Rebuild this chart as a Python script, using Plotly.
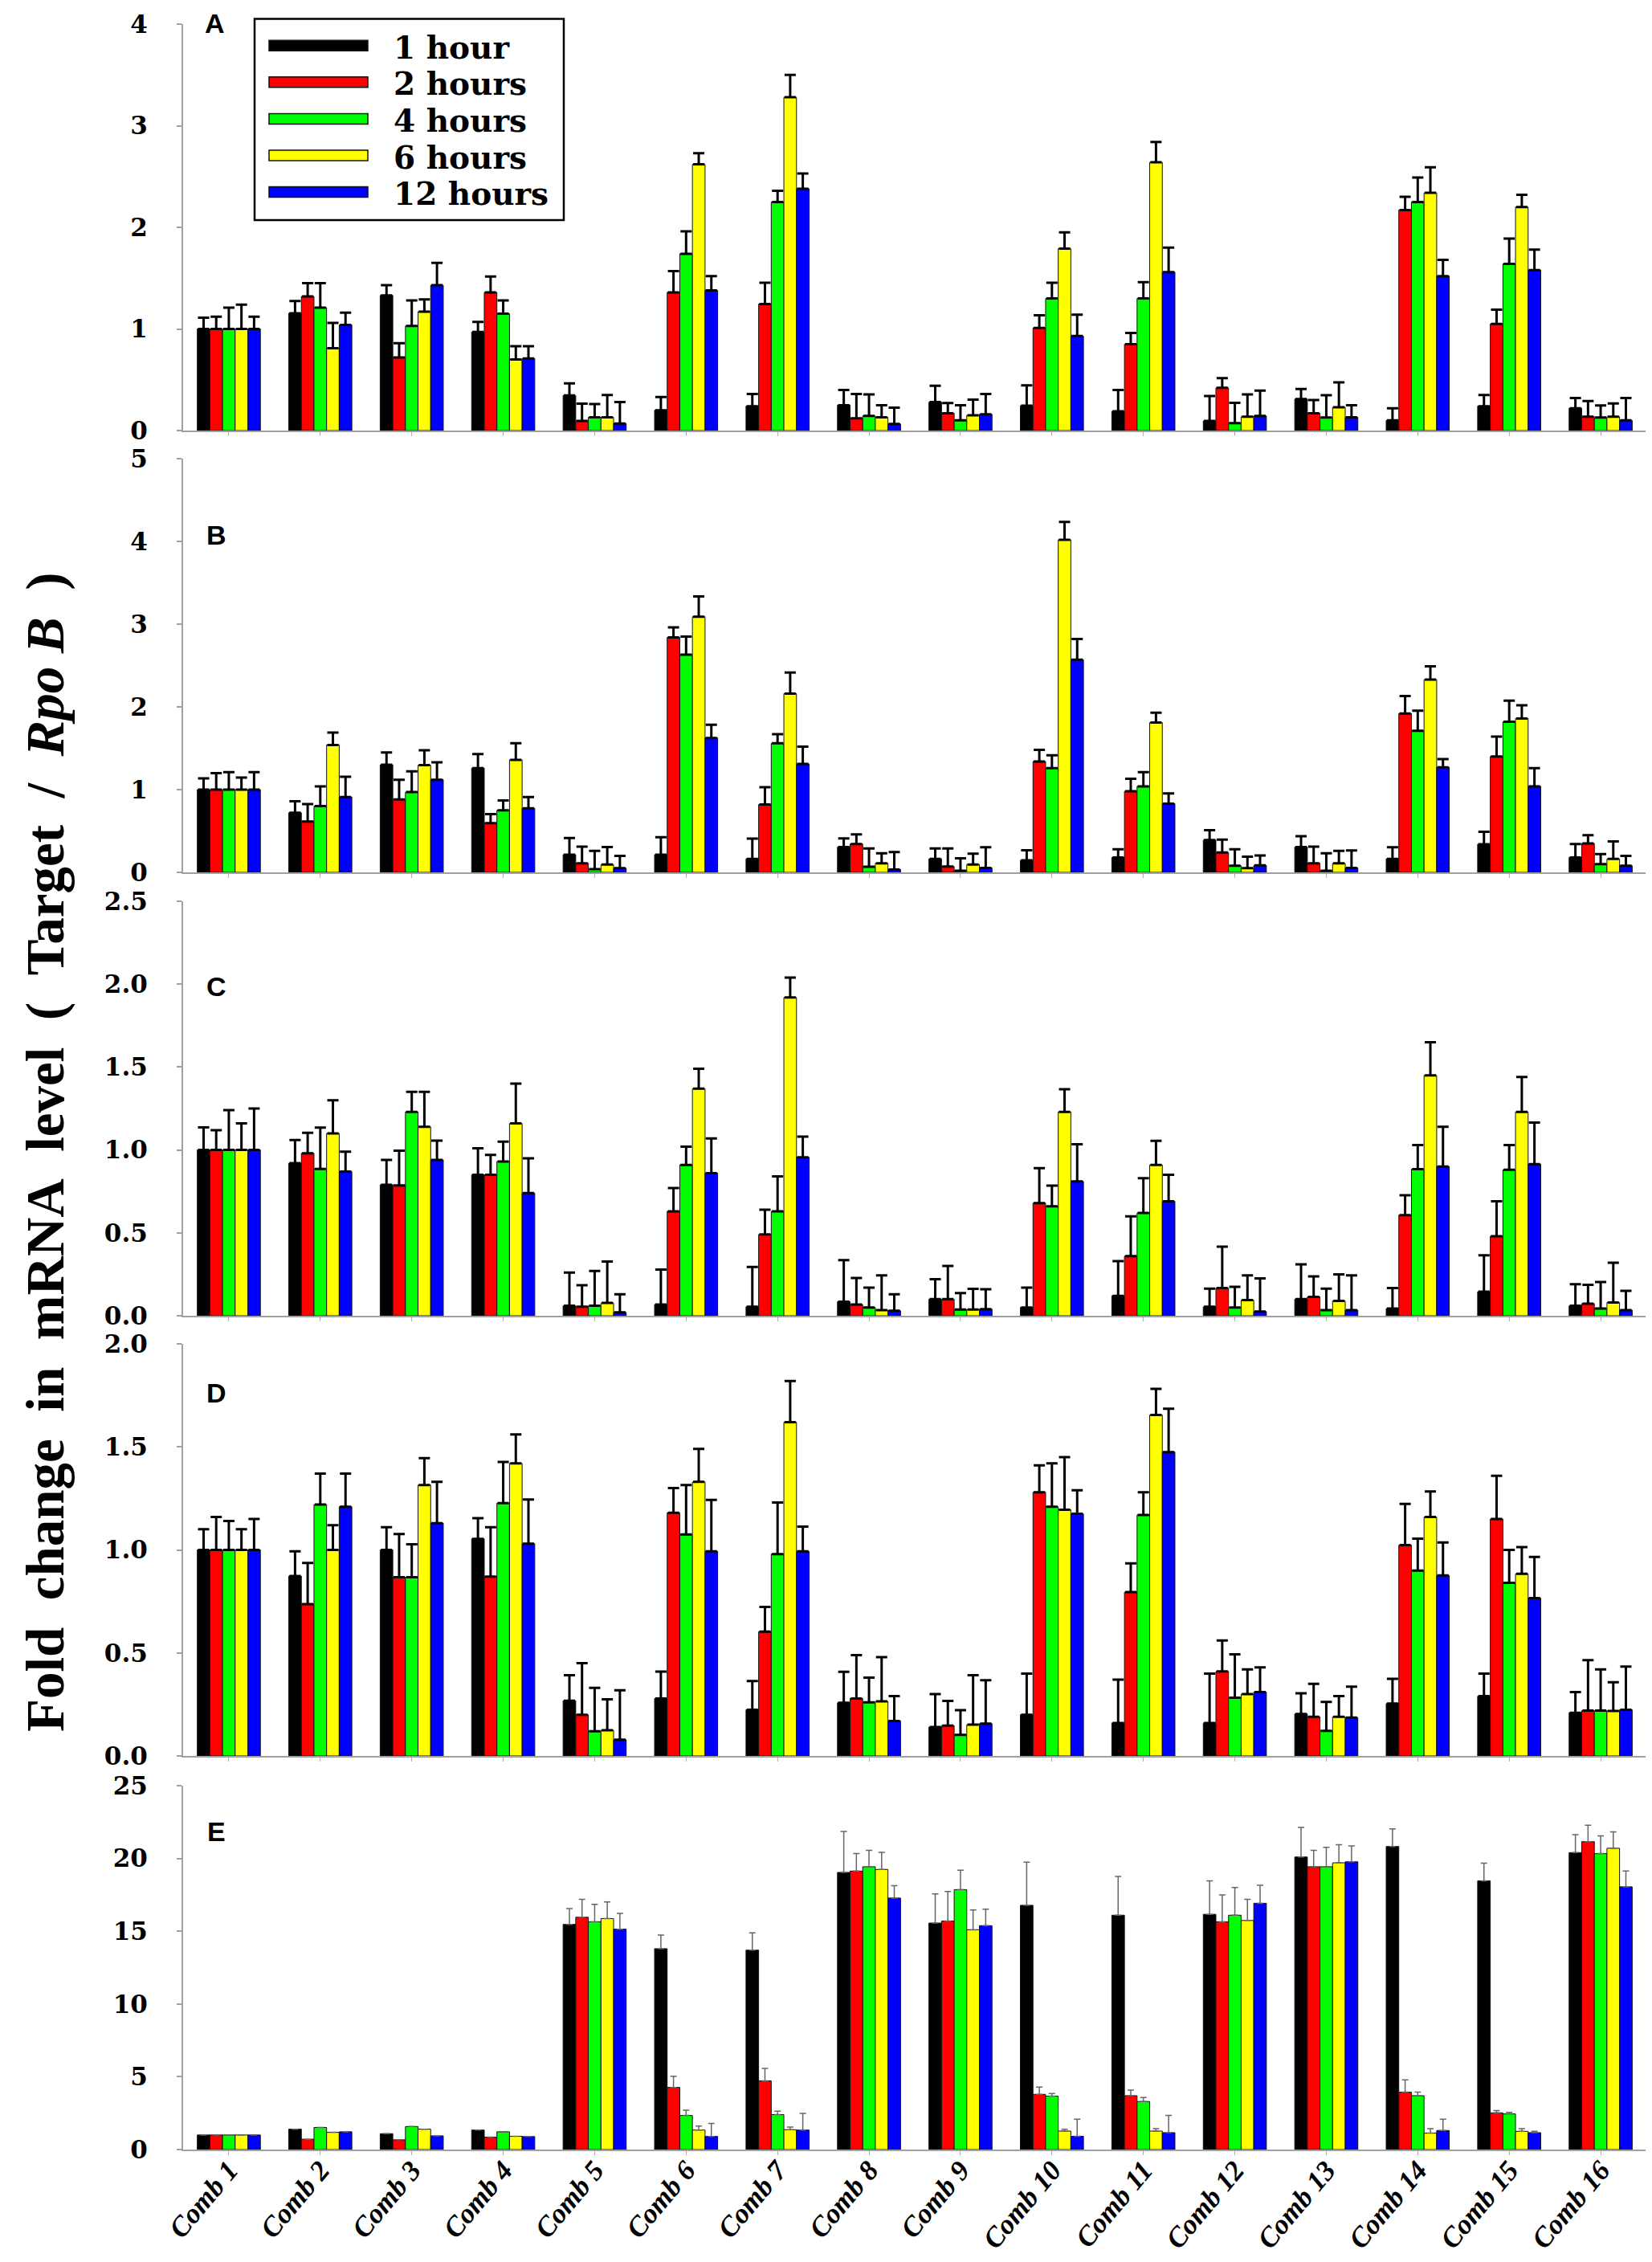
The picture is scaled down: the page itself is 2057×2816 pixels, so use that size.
import plotly.graph_objects as go

W, H = 2057, 2816

CATEGORIES = ["Comb 1", "Comb 2", "Comb 3", "Comb 4", "Comb 5", "Comb 6", "Comb 7", "Comb 8",
              "Comb 9", "Comb 10", "Comb 11", "Comb 12", "Comb 13", "Comb 14", "Comb 15", "Comb 16"]
SERIES = ["1 hour", "2 hours", "4 hours", "6 hours", "12 hours"]
COLORS = ["#000000", "#ff0000", "#00ff00", "#ffff00", "#0000ff"]
PANEL_LABELS = ["A", "B", "C", "D", "E"]
Y_MAX = [4, 5, 2.5, 2, 25]
Y_DTICK = [1, 1, 0.5, 0.5, 5]
Y_FORMAT = ["d", "d", ".1f", ".1f", "d"]

# ---------------- Panel A ----------------
A_1H = [1.0, 1.155, 1.33, 0.97, 0.345, 0.2, 0.24, 0.25, 0.28, 0.245, 0.19, 0.095, 0.31, 0.10, 0.24, 0.22]
A_1H_ERR = [0.11, 0.12, 0.10, 0.10, 0.12, 0.13, 0.12, 0.15, 0.16, 0.2, 0.21, 0.245, 0.10, 0.12, 0.11, 0.10]
A_2H = [1.0, 1.32, 0.72, 1.36, 0.095, 1.36, 1.245, 0.12, 0.17, 1.01, 0.85, 0.42, 0.17, 2.17, 1.05, 0.136]
A_2H_ERR = [0.12, 0.13, 0.14, 0.155, 0.17, 0.21, 0.21, 0.24, 0.10, 0.125, 0.11, 0.095, 0.13, 0.13, 0.14, 0.155]
A_4H = [1.0, 1.21, 1.03, 1.15, 0.13, 1.74, 2.25, 0.145, 0.10, 1.30, 1.30, 0.073, 0.128, 2.25, 1.64, 0.128]
A_4H_ERR = [0.21, 0.24, 0.25, 0.13, 0.13, 0.22, 0.11, 0.21, 0.15, 0.155, 0.16, 0.2, 0.22, 0.24, 0.25, 0.12]
A_6H = [1.0, 0.81, 1.17, 0.70, 0.13, 2.62, 3.28, 0.13, 0.15, 1.79, 2.64, 0.136, 0.23, 2.34, 2.20, 0.136]
A_6H_ERR = [0.24, 0.25, 0.12, 0.13, 0.22, 0.11, 0.22, 0.12, 0.155, 0.16, 0.2, 0.22, 0.245, 0.25, 0.12, 0.13]
A_12H = [1.0, 1.04, 1.43, 0.71, 0.07, 1.38, 2.38, 0.065, 0.16, 0.93, 1.56, 0.144, 0.13, 1.52, 1.58, 0.10]
A_12H_ERR = [0.12, 0.12, 0.22, 0.12, 0.21, 0.14, 0.15, 0.16, 0.2, 0.21, 0.24, 0.25, 0.12, 0.16, 0.2, 0.22]

# ---------------- Panel B ----------------
B_1H = [1.0, 0.72, 1.30, 1.26, 0.214, 0.214, 0.163, 0.306, 0.163, 0.146, 0.18, 0.39, 0.306, 0.163, 0.34, 0.18]
B_1H_ERR = [0.135, 0.14, 0.15, 0.17, 0.2, 0.21, 0.245, 0.105, 0.125, 0.12, 0.1, 0.12, 0.13, 0.14, 0.15, 0.163]
B_2H = [1.0, 0.615, 0.88, 0.595, 0.11, 2.84, 0.82, 0.343, 0.07, 1.34, 0.98, 0.24, 0.11, 1.92, 1.40, 0.35]
B_2H_ERR = [0.2, 0.21, 0.24, 0.11, 0.2, 0.12, 0.21, 0.115, 0.22, 0.14, 0.15, 0.155, 0.2, 0.21, 0.24, 0.10]
B_4H = [1.0, 0.80, 0.97, 0.75, 0.04, 2.63, 1.56, 0.068, 0.02, 1.26, 1.04, 0.08, 0.02, 1.71, 1.82, 0.10]
B_4H_ERR = [0.21, 0.24, 0.25, 0.12, 0.22, 0.22, 0.11, 0.22, 0.15, 0.155, 0.17, 0.2, 0.21, 0.245, 0.255, 0.12]
B_6H = [1.0, 1.54, 1.295, 1.36, 0.095, 3.09, 2.16, 0.11, 0.095, 4.02, 1.81, 0.05, 0.11, 2.33, 1.86, 0.163]
B_6H_ERR = [0.146, 0.15, 0.18, 0.2, 0.21, 0.245, 0.255, 0.12, 0.13, 0.215, 0.12, 0.14, 0.15, 0.16, 0.16, 0.21]
B_12H = [1.0, 0.91, 1.12, 0.775, 0.05, 1.625, 1.31, 0.034, 0.054, 2.57, 0.83, 0.085, 0.054, 1.27, 1.04, 0.08]
B_12H_ERR = [0.21, 0.245, 0.21, 0.135, 0.15, 0.16, 0.21, 0.21, 0.25, 0.25, 0.125, 0.12, 0.21, 0.10, 0.22, 0.12]

# ---------------- Panel C ----------------
C_1H = [1.0, 0.92, 0.79, 0.85, 0.06, 0.068, 0.054, 0.085, 0.10, 0.05, 0.12, 0.054, 0.10, 0.043, 0.145, 0.06]
C_1H_ERR = [0.136, 0.14, 0.15, 0.16, 0.2, 0.21, 0.24, 0.25, 0.12, 0.12, 0.21, 0.11, 0.21, 0.124, 0.22, 0.13]
C_2H = [1.0, 0.98, 0.786, 0.85, 0.054, 0.63, 0.49, 0.068, 0.10, 0.68, 0.36, 0.167, 0.114, 0.607, 0.48, 0.073]
C_2H_ERR = [0.119, 0.124, 0.21, 0.12, 0.13, 0.14, 0.15, 0.16, 0.2, 0.21, 0.24, 0.25, 0.124, 0.12, 0.21, 0.114]
C_4H = [1.0, 0.885, 1.23, 0.93, 0.06, 0.91, 0.63, 0.05, 0.037, 0.66, 0.62, 0.05, 0.034, 0.884, 0.88, 0.043]
C_4H_ERR = [0.24, 0.25, 0.12, 0.12, 0.21, 0.11, 0.21, 0.12, 0.1, 0.125, 0.21, 0.125, 0.13, 0.145, 0.15, 0.16]
C_6H = [1.0, 1.10, 1.14, 1.16, 0.077, 1.37, 1.92, 0.034, 0.037, 1.23, 0.91, 0.094, 0.09, 1.45, 1.23, 0.08]
C_6H_ERR = [0.16, 0.2, 0.21, 0.24, 0.25, 0.12, 0.12, 0.21, 0.125, 0.136, 0.145, 0.15, 0.16, 0.2, 0.21, 0.24]
C_12H = [1.0, 0.87, 0.94, 0.74, 0.02, 0.86, 0.956, 0.03, 0.04, 0.81, 0.69, 0.025, 0.034, 0.90, 0.915, 0.034]
C_12H_ERR = [0.25, 0.12, 0.116, 0.21, 0.11, 0.21, 0.124, 0.1, 0.12, 0.225, 0.16, 0.2, 0.21, 0.24, 0.25, 0.116]

# ---------------- Panel D ----------------
D_1H = [1.0, 0.873, 1.0, 1.054, 0.268, 0.279, 0.224, 0.258, 0.14, 0.2, 0.16, 0.16, 0.204, 0.254, 0.29, 0.21]
D_1H_ERR = [0.10, 0.12, 0.11, 0.1, 0.124, 0.13, 0.14, 0.15, 0.16, 0.2, 0.21, 0.24, 0.1, 0.12, 0.11, 0.1]
D_2H = [1.0, 0.737, 0.867, 0.87, 0.2, 1.18, 0.603, 0.279, 0.147, 1.28, 0.795, 0.41, 0.19, 1.023, 1.15, 0.22]
D_2H_ERR = [0.16, 0.2, 0.21, 0.24, 0.25, 0.12, 0.12, 0.21, 0.12, 0.13, 0.14, 0.15, 0.16, 0.2, 0.21, 0.245]
D_4H = [1.0, 1.22, 0.867, 1.227, 0.12, 1.075, 0.98, 0.26, 0.102, 1.21, 1.17, 0.283, 0.122, 0.9, 0.84, 0.22]
D_4H_ERR = [0.14, 0.15, 0.16, 0.2, 0.21, 0.24, 0.25, 0.12, 0.12, 0.21, 0.11, 0.21, 0.14, 0.155, 0.16, 0.2]
D_6H = [1.0, 1.0, 1.315, 1.42, 0.125, 1.33, 1.62, 0.265, 0.152, 1.195, 1.655, 0.3, 0.19, 1.16, 0.884, 0.218]
D_6H_ERR = [0.10, 0.12, 0.13, 0.14, 0.15, 0.16, 0.2, 0.215, 0.24, 0.255, 0.127, 0.12, 0.1, 0.124, 0.13, 0.14]
D_12H = [1.0, 1.21, 1.13, 1.03, 0.079, 0.993, 0.993, 0.17, 0.157, 1.175, 1.475, 0.31, 0.186, 0.876, 0.766, 0.224]
D_12H_ERR = [0.15, 0.16, 0.2, 0.215, 0.24, 0.25, 0.12, 0.12, 0.21, 0.114, 0.21, 0.12, 0.15, 0.16, 0.2, 0.21]

# ---------------- Panel E ----------------
E_1H = [1.0, 1.4, 1.09, 1.34, 15.47, 13.8, 13.7, 19.04, 15.56, 16.78, 16.1, 16.16, 20.1, 20.82, 18.46, 20.4]
E_1H_ERR = [0, 0, 0, 0, 1.09, 0.94, 1.18, 2.81, 2.0, 2.96, 2.67, 2.3, 2.03, 1.22, 1.22, 1.23]
E_2H = [1.0, 0.71, 0.67, 0.85, 15.96, 4.27, 4.72, 19.13, 15.7, 3.79, 3.7, 15.65, 19.43, 3.94, 2.52, 21.15]
E_2H_ERR = [0, 0, 0, 0, 1.23, 0.76, 0.85, 1.2, 2.03, 0.5, 0.38, 1.85, 1.13, 0.85, 0.15, 1.13]
E_4H = [1.0, 1.52, 1.58, 1.22, 15.65, 2.34, 2.4, 19.43, 17.86, 3.67, 3.3, 16.1, 19.43, 3.7, 2.45, 20.33]
E_4H_ERR = [0, 0, 0, 0, 1.2, 0.36, 0.24, 1.13, 1.33, 0.18, 0.27, 1.9, 1.34, 0.24, 0.1, 1.22]
E_6H = [1.0, 1.18, 1.4, 0.91, 15.87, 1.34, 1.36, 19.24, 15.1, 1.27, 1.27, 15.74, 19.7, 1.13, 1.25, 20.7]
E_6H_ERR = [0, 0, 0, 0, 1.14, 0.27, 0.18, 1.18, 1.36, 0.13, 0.16, 1.45, 1.25, 0.3, 0.18, 1.13]
E_12H = [1.0, 1.22, 0.94, 0.89, 15.14, 0.9, 1.34, 17.28, 15.38, 0.91, 1.16, 16.92, 19.77, 1.31, 1.16, 18.05]
E_12H_ERR = [0, 0, 0, 0, 1.09, 0.9, 1.14, 0.85, 1.14, 1.18, 1.18, 1.23, 1.09, 0.78, 0.1, 1.09]

PANEL_DATA = [
    [(A_1H, A_1H_ERR), (A_2H, A_2H_ERR), (A_4H, A_4H_ERR), (A_6H, A_6H_ERR), (A_12H, A_12H_ERR)],
    [(B_1H, B_1H_ERR), (B_2H, B_2H_ERR), (B_4H, B_4H_ERR), (B_6H, B_6H_ERR), (B_12H, B_12H_ERR)],
    [(C_1H, C_1H_ERR), (C_2H, C_2H_ERR), (C_4H, C_4H_ERR), (C_6H, C_6H_ERR), (C_12H, C_12H_ERR)],
    [(D_1H, D_1H_ERR), (D_2H, D_2H_ERR), (D_4H, D_4H_ERR), (D_6H, D_6H_ERR), (D_12H, D_12H_ERR)],
    [(E_1H, E_1H_ERR), (E_2H, E_2H_ERR), (E_4H, E_4H_ERR), (E_6H, E_6H_ERR), (E_12H, E_12H_ERR)],
]

# ---------------- layout (pixel positions of the panels) ----------------
PANEL_PX = [(22, 528), (563, 1078), (1114, 1630), (1665, 2178), (2215, 2668)]
LETTER_PX = [(259, 21), (261, 658), (261, 1220), (261, 1726), (261, 2272)]
X_PX = (220, 2042)


def px_x(x):
    return x / W


def px_y(y):
    return 1 - y / H


fig = go.Figure()
for p, panel in enumerate(PANEL_DATA):
    ax = "" if p == 0 else str(p + 1)
    last = p == len(PANEL_DATA) - 1
    for s, (vals, errs) in enumerate(panel):
        fig.add_trace(go.Bar(
            x=CATEGORIES, y=vals, name=SERIES[s], offsetgroup=str(s),
            marker=dict(color=COLORS[s], line=dict(color="#111111", width=1)),
            error_y=dict(type="data", array=errs, arrayminus=[0] * len(errs), symmetric=False,
                         color="#666666" if last else "#000000",
                         thickness=1.5 if last else 3, width=4 if last else 7),
            xaxis="x" + ax, yaxis="y" + ax, showlegend=False,
        ))
    top, bot = PANEL_PX[p]
    fig.update_layout({
        "xaxis" + ax: dict(
            domain=[px_x(X_PX[0]), px_x(X_PX[1])], anchor="y" + ax, type="category",
            range=[-0.5, len(CATEGORIES) - 0.5], automargin=False,
            showline=True, linecolor="#a0a0a0", linewidth=2,
            ticks="outside", ticklen=5, tickcolor="#b0b0b0", tickwidth=1,
            showgrid=False, zeroline=False,
            showticklabels=last, tickangle=-50, ticklabelstandoff=-16,
            tickfont=dict(family="Liberation Serif", size=35, color="black",
                          weight="bold", style="italic"),
        ),
        "yaxis" + ax: dict(
            domain=[px_y(bot), px_y(top)], anchor="x" + ax, automargin=False,
            range=[0, Y_MAX[p]], dtick=Y_DTICK[p], tick0=0, tickformat=Y_FORMAT[p],
            showline=True, linecolor="#a0a0a0", linewidth=2,
            ticks="outside", ticklen=6, tickcolor="#a0a0a0", tickwidth=1.5,
            showgrid=False, zeroline=False, ticklabelstandoff=30,
            ticklabeloverflow="allow",
            tickfont=dict(family="DejaVu Serif", size=31, color="black", weight="bold"),
        ),
    })
    lx, ly = LETTER_PX[p]
    fig.add_annotation(x=px_x(lx), y=px_y(ly), xref="paper", yref="paper",
                       text=PANEL_LABELS[p], showarrow=False, xanchor="center", yanchor="middle",
                       font=dict(family="Liberation Sans", size=34, color="black", weight="bold"))

# ---------------- custom legend (drawn in panel A) ----------------
LEG_BOX = (309, 15.6, 694, 266)
fig.add_shape(type="rect", xref="paper", yref="paper",
              x0=px_x(LEG_BOX[0]), x1=px_x(LEG_BOX[2]), y0=px_y(LEG_BOX[3]), y1=px_y(LEG_BOX[1]),
              line=dict(color="black", width=2.5), fillcolor="white", layer="below")
for i, (name, col) in enumerate(zip(SERIES, COLORS)):
    cy = 48.7 + i * 45.6
    fig.add_shape(type="rect", xref="paper", yref="paper",
                  x0=px_x(327), x1=px_x(450), y0=px_y(cy + 6.5), y1=px_y(cy - 6.5),
                  line=dict(color="#111111", width=1.5), fillcolor=col)
    fig.add_annotation(x=px_x(480), y=px_y(cy + 2), xref="paper", yref="paper",
                       text=name, showarrow=False, xanchor="left", yanchor="middle",
                       font=dict(family="DejaVu Serif", size=39, color="black", weight="bold"))

# ---------------- shared y title ----------------
NB = "\u00a0"
title = (f"Fold{NB}{NB}change{NB}{NB}in{NB}{NB}mRNA{NB}{NB}level{NB}{NB}({NB}{NB}Target"
         f"{NB}{NB}/{NB}{NB}<i>Rpo{NB}B</i>{NB}{NB})")
fig.add_annotation(x=px_x(48), y=px_y(1426), xref="paper", yref="paper", text=title,
                   showarrow=False, textangle=-90, xanchor="center", yanchor="middle",
                   font=dict(family="Liberation Serif", size=67, color="black", weight="bold"))

fig.update_layout(
    width=W, height=H, margin=dict(l=0, r=0, t=0, b=0, autoexpand=False),
    paper_bgcolor="white", plot_bgcolor="white",
    barmode="group", bargap=0.31, bargroupgap=0.0,
    showlegend=False,
)

fig.write_html("out.html")
